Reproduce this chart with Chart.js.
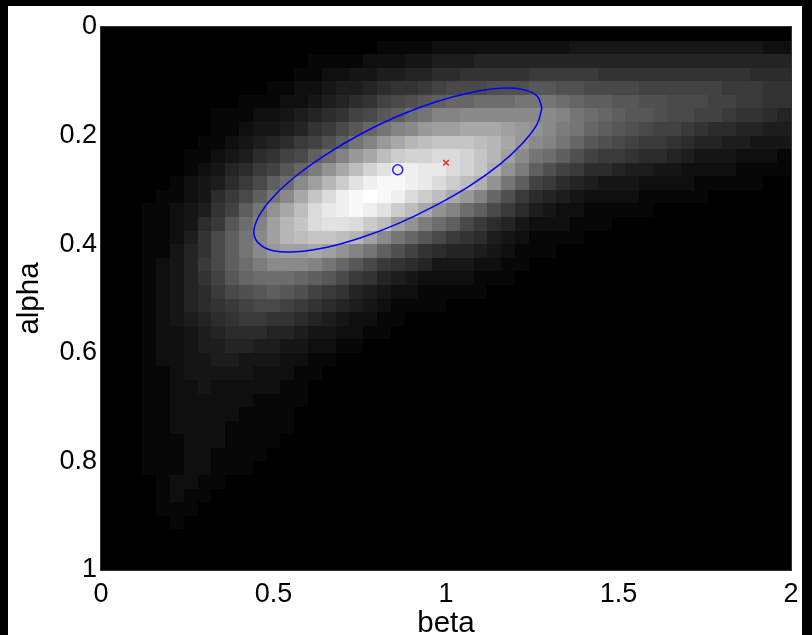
<!DOCTYPE html>
<html>
<head>
<meta charset="utf-8">
<script src="https://cdn.jsdelivr.net/npm/chart.js@4.4.1/dist/chart.umd.min.js"></script>
<style>
  html, body { margin: 0; padding: 0; background: #000; overflow: hidden; }
  #wrap { position: absolute; left: 8px; top: 6px; width: 794px; height: 640px; background: #fff; }
</style>
</head>
<body>
<div id="wrap"><canvas id="post" width="794" height="640"></canvas></div>
<script>
// posterior density, 50 beta columns x 40 alpha rows
// one string per alpha row (top row = alpha 0), one base-36 digit per cell: 0..z -> 0..1
const betaRange = [0, 2];
const alphaRange = [0, 1];
const density = [
  "0000000000 0000000000 0000000000 0000000000 0000000000",
  "0000000000 0000000000 1111222222 2222333333 3333333322",
  "0000000000 0000011112 2233444555 5555555555 5555555555",
  "0000000000 0000112233 4455667777 7888887777 7777777666",
  "0000000000 0011223445 67789aaabb bccbbaaaa9 9999988877",
  "0000000000 1112234567 9abcdeefff gggfeddccb baaa998877",
  "0000000011 122345679a cdfgiijjjj jjjigfedcc baa9987765",
  "0000000011 2334578ace gijlmmnnnm lkjhgedcba 9987665544",
  "0000000112 345689bdgi lnpqrrrqpn ljigecba98 8765544333",
  "0000001123 4679adfiln qsttuutrpm jgfdb98876 6543332221",
  "0000001235 689cehknqt vxxwwutrok hdb9866544 3322221111",
  "0000012346 8adfjmpsvx yyxwusqokg d986543332 2221111100",
  "0000112368 adgjnruxyz yxusqnlieb 8654322221 1111000000",
  "0001123479 dgknquwxyx vsqnkifda8 6432211111 0000000000",
  "000112368c fimpruvvus qmkhfda865 3222111000 0000000000",
  "00011247ad gjmpqrrqpm jgeca87643 2111100000 0000000000",
  "00011357ad gjlmmnmkig db97655432 1110000000 0000000000",
  "00012358ad fhjjjigeca 8765333221 1000000000 0000000000",
  "000123579c efffedca87 5432222111 0000000000 0000000000",
  "000123568a bcdcb98754 3221111100 0000000000 0000000000",
  "0001235678 9aa9876543 2111100000 0000000000 0000000000",
  "0001234567 8877654322 1100000000 0000000000 0000000000",
  "0001223456 6655433221 1000000000 0000000000 0000000000",
  "0001223445 5443322110 0000000000 0000000000 0000000000",
  "0001223344 3332211000 0000000000 0000000000 0000000000",
  "0001123333 3222110000 0000000000 0000000000 0000000000",
  "0001122322 2221100000 0000000000 0000000000 0000000000",
  "0001122222 2111100000 0000000000 0000000000 0000000000",
  "0001122222 1111000000 0000000000 0000000000 0000000000",
  "0001122221 1111000000 0000000000 0000000000 0000000000",
  "0001112221 1110000000 0000000000 0000000000 0000000000",
  "0001112211 1100000000 0000000000 0000000000 0000000000",
  "0001112211 1000000000 0000000000 0000000000 0000000000",
  "0000122110 0000000000 0000000000 0000000000 0000000000",
  "0000121100 0000000000 0000000000 0000000000 0000000000",
  "0000111000 0000000000 0000000000 0000000000 0000000000",
  "0000010000 0000000000 0000000000 0000000000 0000000000",
  "0000000000 0000000000 0000000000 0000000000 0000000000",
  "0000000000 0000000000 0000000000 0000000000 0000000000",
  "0000000000 0000000000 0000000000 0000000000 0000000000"
];

const betaTicks = [0, 0.5, 1, 1.5, 2];
const alphaTicks = [0, 0.2, 0.4, 0.6, 0.8, 1];

// confidence ellipse, traced around from its right end
const ellipseBeta = [1.278, 1.264, 1.222, 1.156, 1.070, 0.969, 0.861, 0.753, 0.652, 0.566, 0.499, 0.458, 0.443,
                     0.458, 0.499, 0.566, 0.652, 0.753, 0.861, 0.969, 1.070, 1.156, 1.222, 1.264, 1.278];
const ellipseAlpha = [0.149, 0.179, 0.214, 0.253, 0.292, 0.329, 0.362, 0.388, 0.406, 0.414, 0.412, 0.399, 0.378,
                      0.348, 0.313, 0.274, 0.235, 0.197, 0.164, 0.138, 0.121, 0.113, 0.115, 0.127, 0.149];

// estimate (o) and true value (x)
const estBeta = [0.86];
const estAlpha = [0.263];
const trueBeta = [1.0];
const trueAlpha = [0.25];

const FONT = 'Liberation Sans, Arial, Helvetica, sans-serif';

const heatmap = {
    id: 'heatmap',
    beforeDatasetsDraw(chart) {
        const { ctx, chartArea: a, scales: { x, y } } = chart;
        ctx.save();
        ctx.fillStyle = '#000';
        ctx.fillRect(a.left, a.top, a.right - a.left, a.bottom - a.top);
        const rows = density.map(r => r.replace(/ /g, ''));
        const nb = 50, na = rows.length;
        const db = (betaRange[1] - betaRange[0]) / nb;
        const da = (alphaRange[1] - alphaRange[0]) / na;
        rows.forEach((row, i) => {
            const y0 = Math.round(y.getPixelForValue(alphaRange[0] + i * da));
            const y1 = Math.round(y.getPixelForValue(alphaRange[0] + (i + 1) * da));
            for (let j = 0; j < nb && j < row.length; j++) {
                const v = parseInt(row[j], 36) / 35;
                if (!v) continue;
                const x0 = Math.round(x.getPixelForValue(betaRange[0] + j * db));
                const x1 = Math.round(x.getPixelForValue(betaRange[0] + (j + 1) * db));
                const g = Math.round(255 * v);
                ctx.fillStyle = 'rgb(' + g + ',' + g + ',' + g + ')';
                ctx.fillRect(x0, Math.min(y0, y1), x1 - x0, Math.abs(y1 - y0));
            }
        });
        ctx.strokeStyle = '#333';
        ctx.lineWidth = 1;
        ctx.strokeRect(a.left - 0.5, a.top - 0.5, a.right - a.left + 1, a.bottom - a.top + 1);
        ctx.restore();
    }
};

new Chart(document.getElementById('post'), {
    type: 'scatter',
    data: {
        datasets: [
            {
                data: ellipseBeta.map((b, k) => ({ x: b, y: ellipseAlpha[k] })),
                showLine: true,
                borderColor: '#0000ff',
                borderWidth: 1.5,
                pointRadius: 0,
                tension: 0.4
            },
            {
                data: estBeta.map((b, k) => ({ x: b, y: estAlpha[k] })),
                pointStyle: 'circle',
                pointRadius: 5,
                borderColor: '#2020ff',
                backgroundColor: 'rgba(0,0,0,0)',
                borderWidth: 1.5
            },
            {
                data: trueBeta.map((b, k) => ({ x: b, y: trueAlpha[k] })),
                pointStyle: 'crossRot',
                pointRadius: 4,
                borderColor: '#ff2020',
                borderWidth: 1.5
            }
        ]
    },
    options: {
        responsive: false,
        animation: false,
        layout: { padding: { top: 21, right: 11, left: 0, bottom: 0 } },
        plugins: {
            legend: { display: false },
            tooltip: { enabled: false }
        },
        scales: {
            x: {
                type: 'linear',
                min: betaRange[0],
                max: betaRange[1],
                afterBuildTicks: s => { s.ticks = betaTicks.map(v => ({ value: v })); },
                afterFit: s => { s.height = 76; s.paddingLeft = 0; s.paddingRight = 0; },
                grid: { display: false, drawTicks: false },
                border: { display: false },
                ticks: { color: '#000', padding: 8, maxRotation: 0, callback: v => String(v), font: { family: FONT, size: 27 } },
                title: { display: true, text: 'beta', color: '#000', font: { family: FONT, size: 29.5 }, padding: { top: 0, bottom: 4 } }
            },
            y: {
                type: 'linear',
                reverse: true,
                min: alphaRange[0],
                max: alphaRange[1],
                afterBuildTicks: s => { s.ticks = alphaTicks.map(v => ({ value: v })); },
                afterFit: s => { s.width = 93; s.paddingTop = 0; s.paddingBottom = 0; },
                grid: { display: false, drawTicks: false },
                border: { display: false },
                ticks: { color: '#000', padding: 4, callback: v => String(v), font: { family: FONT, size: 27 } },
                title: { display: true, text: 'alpha', color: '#000', font: { family: FONT, size: 29.5 }, padding: { top: 4, bottom: 0 } }
            }
        }
    },
    plugins: [heatmap]
});
</script>
</body>
</html>
